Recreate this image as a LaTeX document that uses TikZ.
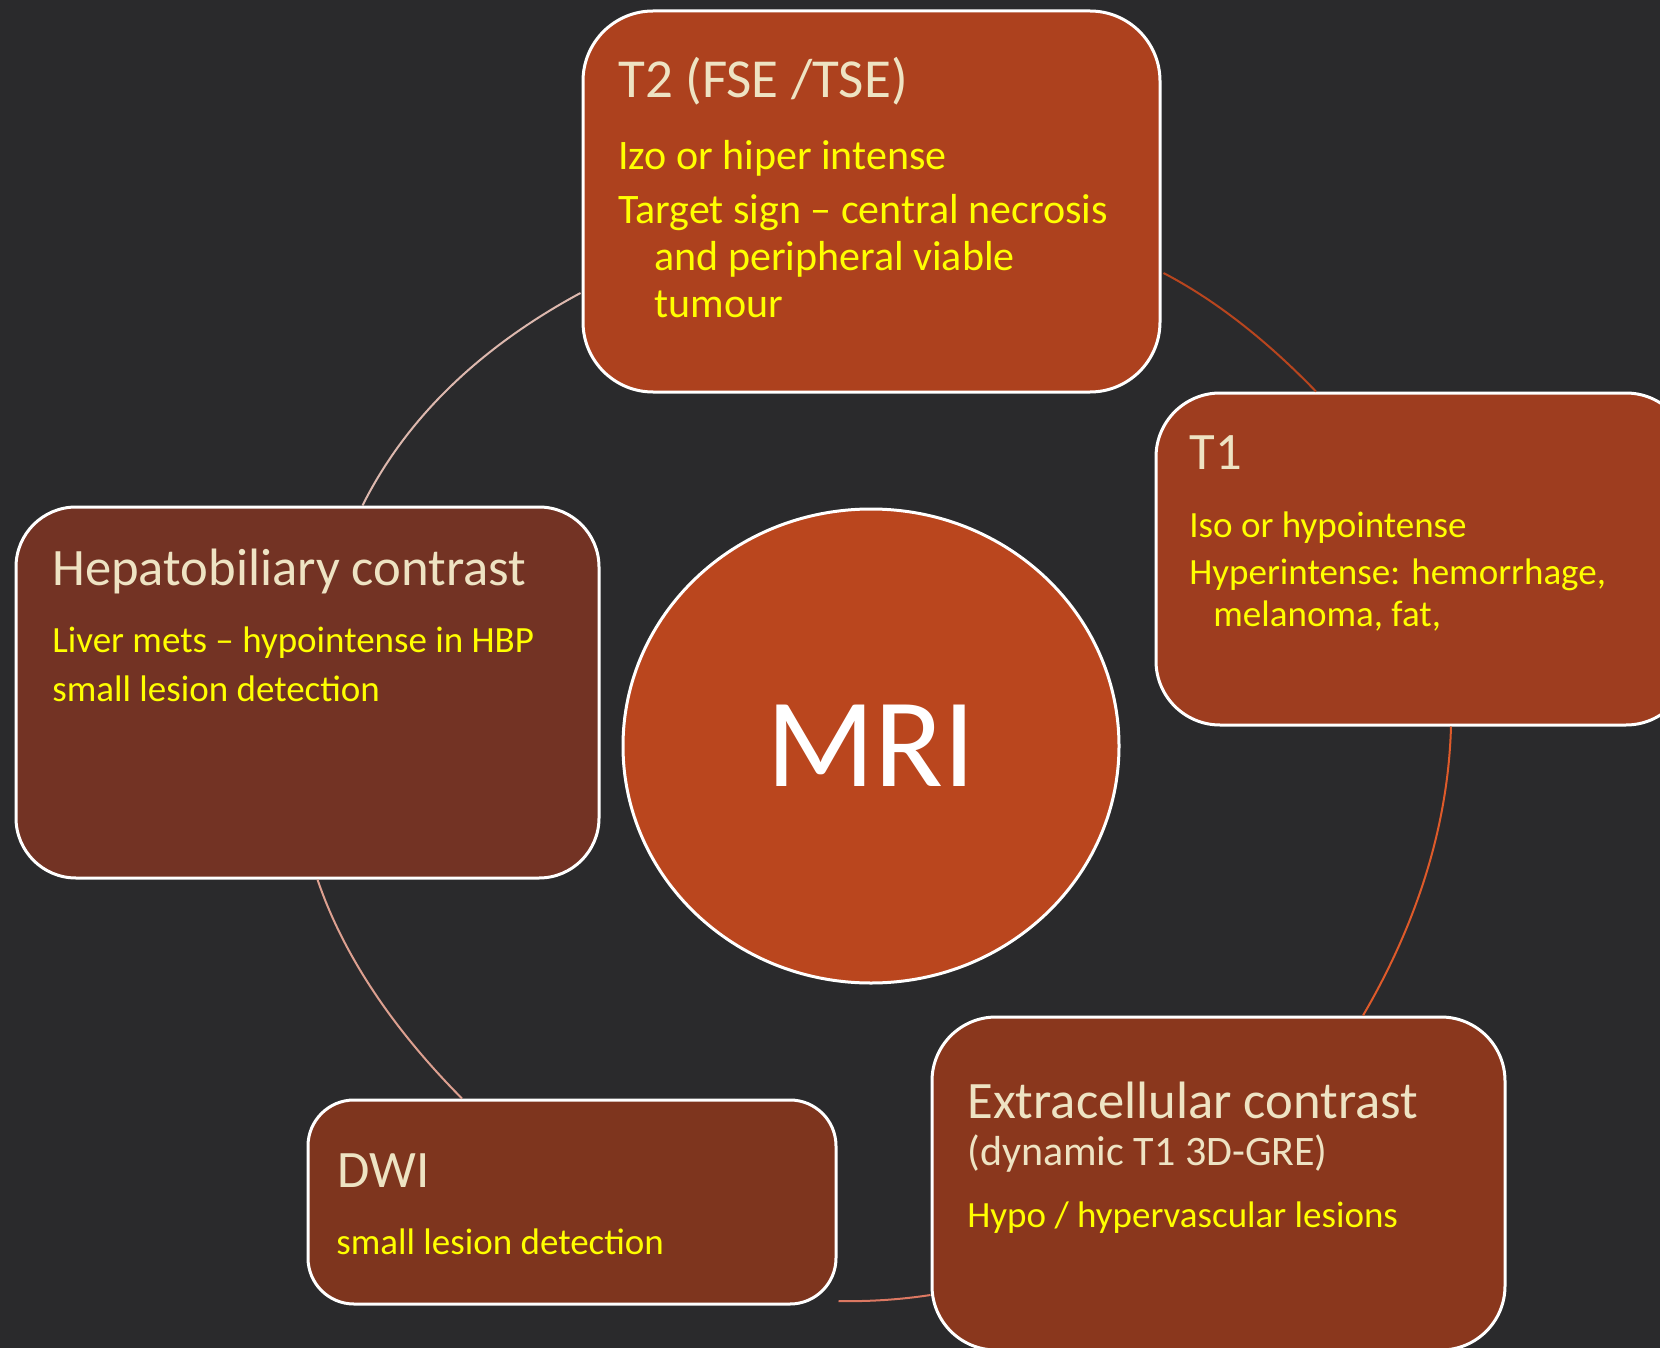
\documentclass[tikz,border=0pt]{standalone}
\usepackage{fontspec}
\setmainfont{Carlito}
\usepackage{tikz}
\usetikzlibrary{shapes.geometric,calc}
\definecolor{mribg}{HTML}{2A2A2C}
\definecolor{mrihub}{HTML}{BA461E}
\definecolor{mrit2}{HTML}{AD411E}
\definecolor{mrit1}{HTML}{9E3D1F}
\definecolor{mrihbp}{HTML}{733324}
\definecolor{mridwi}{HTML}{7E351E}
\definecolor{mriecf}{HTML}{8A371D}
\definecolor{mricream}{HTML}{EEE3C3}
\definecolor{mriyellow}{HTML}{FFFF00}
\definecolor{mriarcpale}{HTML}{DDB8AE}
\definecolor{mriarcpink}{HTML}{DDA090}
\definecolor{mriarcred}{HTML}{B8451E}
\definecolor{mriarcorange}{HTML}{DE5A2A}
\definecolor{mriarcsalmon}{HTML}{DC7862}

\tikzset{
  card/.style={draw=white,line width=1.5pt,rounded corners=#1,inner sep=0pt},
  headtxt/.style={text=mricream,anchor=base west,inner sep=0pt,font=\fontsize{26.3pt}{30pt}\selectfont},
  bodytxt/.style={text=mriyellow,anchor=base west,align=left,inner sep=0pt},
  ring/.style={line width=1pt}
}

\begin{document}
\begin{tikzpicture}[x=0.5pt,y=-0.5pt]
  \useasboundingbox (0,0) rectangle (1660,1348);
  \fill[mribg] (0,0) rectangle (1660,1348);
  \clip (0,0) rectangle (1660,1348);

  % hub
  \node[ellipse,draw=white,line width=1.5pt,fill=mrihub,minimum width=248pt,minimum height=237pt,
        inner sep=0pt,text=white,font=\fontsize{63.5pt}{64pt}\selectfont] (mri) at (871,746) {MRI};

  % cards
  \node[card=35pt,fill=mrit2,minimum width=288.5pt,minimum height=190.5pt] (t2) at (871.5,201.5) {};
  \node[card=32pt,fill=mrit1,minimum width=267pt,minimum height=166pt] (t1) at (1423,559) {};
  \node[card=30pt,fill=mrihbp,minimum width=291.5pt,minimum height=185.5pt] (hbp) at (307.5,692.5) {};
  \node[card=23pt,fill=mridwi,minimum width=264pt,minimum height=102pt] (dwi) at (572,1202) {};
  \node[card=32pt,fill=mriecf,minimum width=286.5pt,minimum height=166.5pt] (ecf) at (1218.5,1183.5) {};

  % cycle arcs between the cards
  \draw[ring,mriarcred] ($(t2.east)+(2,71.5)$) .. controls (1214.7,299.7) and (1266,339.7) .. ($(t1.north)+(-107,0)$);
  \draw[ring,mriarcorange] ($(t1.south)+(28,0)$) .. controls (1448.3,822.3) and (1419,919.7) .. ($(ecf.north)+(144.5,0)$);
  \draw[ring,mriarcsalmon] ($(ecf.west)+(0,111.5)$) .. controls (899.7,1299.7) and (868,1301.7) .. ($(dwi.east)+(1,99)$);
  \draw[ring,mriarcpink] ($(dwi.north)+(-110,0)$) .. controls (390.3,1026.3) and (342.2,952.3) .. ($(hbp.south)+(10,0)$);
  \draw[ring,mriarcpale] ($(hbp.north)+(55,0)$) .. controls (405.8,419) and (479,347.7) .. ($(t2.west)+(-1,91.5)$);

  % T2
  \node[headtxt,font=\fontsize{27.5pt}{30pt}\selectfont] (t2head) at (618,98) {T2 (FSE /TSE)};
  \node[bodytxt,font=\fontsize{21pt}{23.6pt}\selectfont] (t2body) at (618,318)
    {Izo or hiper intense\\[3.4pt]Target sign – central necrosis\\\hspace*{18pt}and peripheral viable\\\hspace*{18pt}tumour};
  % T1
  \node[headtxt] (t1head) at (1189,469) {T1};
  \node[bodytxt,font=\fontsize{18.5pt}{21pt}\selectfont] (t1body) at (1189,626)
    {Iso or hypointense\\[2.5pt]Hyperintense: hemorrhage,\\\hspace*{12pt}melanoma, fat,};
  % hepatobiliary
  \node[headtxt] (hbphead) at (52,585) {Hepatobiliary contrast};
  \node[bodytxt,font=\fontsize{18.5pt}{24.5pt}\selectfont] (hbpbody) at (52,701)
    {Liver mets – hypointense in HBP\\small lesion detection};
  % DWI
  \node[headtxt] (dwihead) at (337,1187) {DWI};
  \node[bodytxt,font=\fontsize{18.5pt}{21pt}\selectfont] (dwibody) at (336,1254) {small lesion detection};
  % extracellular
  \node[headtxt] (ecfhead) at (967,1118) {Extracellular contrast};
  \node[headtxt,font=\fontsize{21pt}{24pt}\selectfont] (ecfsub) at (967,1165) {(dynamic T1 3D-GRE)};
  \node[bodytxt,font=\fontsize{18.5pt}{21pt}\selectfont] (ecfbody) at (967,1227) {Hypo / hypervascular lesions};
\end{tikzpicture}
\end{document}
